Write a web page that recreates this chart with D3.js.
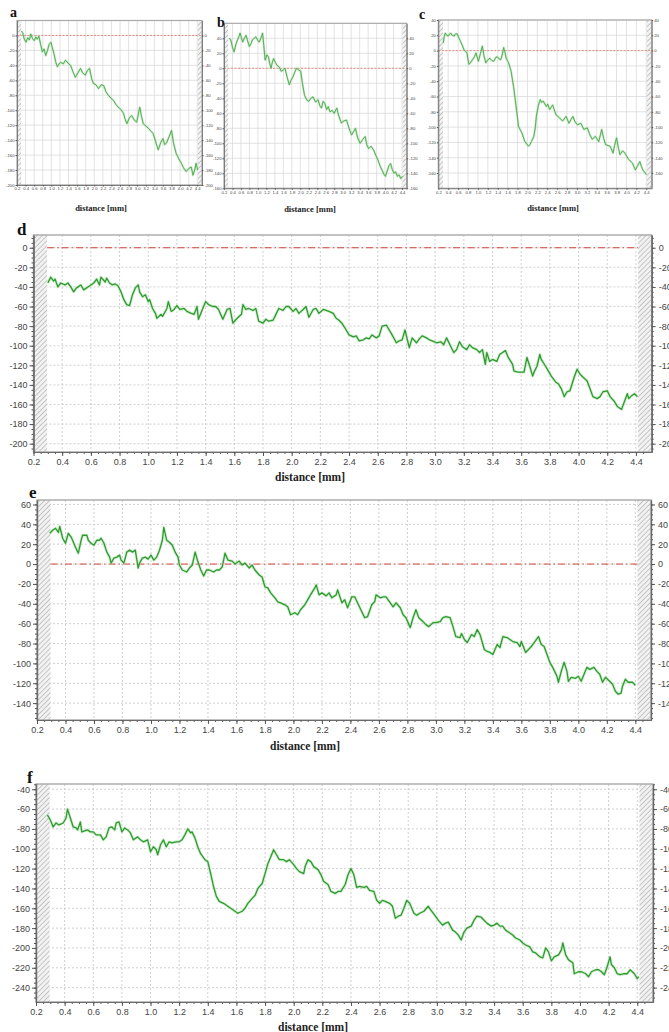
<!DOCTYPE html>
<html>
<head>
<meta charset="utf-8">
<script src="https://cdn.jsdelivr.net/npm/d3@7"></script>
<style>
  body { margin: 0; background: #fff; }
  svg { display: block; }
  .tick text { fill: #444; }
</style>
</head>
<body>
<svg id="fig" width="669" height="1032"></svg>
<script>
// tick labels shared by every panel
var xTicks = [0.2,0.4,0.6,0.8,1.0,1.2,1.4,1.6,1.8,2.0,2.2,2.4,2.6,2.8,3.0,3.2,3.4,3.6,3.8,4.0,4.2,4.4];
var yTicksA = [0,-20,-40,-60,-80,-100,-120,-140,-160,-180,-200];
var yTicksB = [40,20,0,-20,-40,-60,-80,-100,-120,-140,-160];
var yTicksC = [40,20,0,-20,-40,-60,-80,-100,-120,-140,-160];
var yTicksD = [0,-20,-40,-60,-80,-100,-120,-140,-160,-180,-200];
var yTicksE = [60,40,20,0,-20,-40,-60,-80,-100,-120,-140];
var yTicksF = [-40,-60,-80,-100,-120,-140,-160,-180,-200,-220,-240];

// profiles: [distance mm, depth]
var profileA = [[0.30,6],[0.33,4],[0.37,-5],[0.41,-9],[0.45,-3],[0.49,-6],[0.52,2],[0.56,-4],[0.60,-7],[0.64,-2],[0.67,-5],[0.71,-1],[0.75,-12],[0.79,-22],[0.83,-18],[0.87,-27],[0.91,-20],[0.95,-12],[0.99,-9],[1.03,-18],[1.06,-24],[1.10,-35],[1.14,-42],[1.18,-38],[1.22,-36],[1.28,-38],[1.33,-33],[1.39,-37],[1.45,-40],[1.50,-48],[1.56,-56],[1.62,-50],[1.68,-44],[1.73,-50],[1.79,-53],[1.84,-47],[1.89,-44],[1.94,-58],[1.98,-64],[2.04,-66],[2.10,-71],[2.16,-66],[2.22,-67],[2.27,-75],[2.33,-80],[2.39,-84],[2.45,-87],[2.50,-92],[2.56,-96],[2.62,-99],[2.68,-104],[2.72,-112],[2.76,-118],[2.82,-110],[2.87,-107],[2.93,-113],[2.99,-116],[3.03,-104],[3.06,-96],[3.10,-108],[3.14,-118],[3.20,-121],[3.26,-124],[3.32,-128],[3.37,-131],[3.43,-142],[3.49,-153],[3.55,-143],[3.60,-138],[3.64,-146],[3.68,-144],[3.74,-136],[3.80,-127],[3.85,-145],[3.91,-158],[3.97,-165],[4.03,-171],[4.08,-177],[4.14,-182],[4.20,-178],[4.26,-176],[4.30,-187],[4.34,-180],[4.37,-171],[4.41,-180]];

var profileB = [[0.32,40],[0.36,38],[0.40,28],[0.44,22],[0.48,32],[0.52,38],[0.55,42],[0.58,47],[0.61,41],[0.64,35],[0.68,40],[0.72,44],[0.76,36],[0.80,29],[0.84,33],[0.87,38],[0.91,40],[0.95,42],[0.99,38],[1.03,35],[1.07,40],[1.11,47],[1.14,30],[1.17,11],[1.21,18],[1.25,15],[1.28,6],[1.31,0],[1.34,8],[1.37,13],[1.41,8],[1.45,4],[1.50,2],[1.55,-4],[1.60,-2],[1.64,0],[1.69,-12],[1.74,-22],[1.78,-16],[1.83,-11],[1.87,-5],[1.91,0],[1.96,-2],[2.01,-4],[2.05,-20],[2.10,-36],[2.15,-42],[2.20,-44],[2.25,-40],[2.30,-38],[2.36,-45],[2.42,-42],[2.46,-50],[2.50,-53],[2.54,-44],[2.58,-47],[2.62,-55],[2.66,-51],[2.70,-58],[2.75,-56],[2.80,-60],[2.86,-53],[2.91,-64],[2.97,-73],[3.03,-70],[3.09,-69],[3.15,-80],[3.21,-89],[3.26,-84],[3.30,-80],[3.35,-92],[3.41,-100],[3.47,-95],[3.53,-91],[3.57,-102],[3.61,-107],[3.67,-104],[3.73,-109],[3.78,-116],[3.83,-122],[3.88,-130],[3.93,-136],[3.97,-141],[4.01,-144],[4.05,-137],[4.09,-130],[4.13,-127],[4.17,-135],[4.21,-140],[4.25,-138],[4.29,-144],[4.33,-142],[4.37,-147],[4.41,-144]];

var profileC = [[0.30,10],[0.32,18],[0.34,23],[0.37,20],[0.40,19],[0.45,23],[0.48,20],[0.52,19],[0.55,22],[0.58,22],[0.62,16],[0.65,12],[0.69,6],[0.72,1],[0.75,-1],[0.78,-3],[0.80,-12],[0.82,-18],[0.86,-15],[0.89,-12],[0.93,-8],[0.96,-3],[1.01,-14],[1.05,-4],[1.09,6],[1.12,-6],[1.16,-16],[1.20,-12],[1.24,-10],[1.28,-13],[1.32,-14],[1.36,-9],[1.39,-8],[1.43,-11],[1.46,-12],[1.49,-6],[1.52,4],[1.55,-3],[1.57,-10],[1.62,-16],[1.67,-27],[1.72,-47],[1.75,-62],[1.77,-73],[1.80,-88],[1.82,-99],[1.86,-104],[1.89,-108],[1.95,-119],[2.02,-125],[2.05,-123],[2.08,-119],[2.13,-112],[2.16,-100],[2.18,-86],[2.22,-72],[2.26,-64],[2.29,-68],[2.32,-66],[2.38,-73],[2.41,-70],[2.45,-77],[2.51,-71],[2.55,-79],[2.58,-84],[2.65,-88],[2.71,-92],[2.78,-86],[2.84,-95],[2.88,-90],[2.92,-86],[2.96,-93],[3.01,-97],[3.08,-95],[3.14,-103],[3.21,-101],[3.26,-110],[3.31,-116],[3.37,-112],[3.44,-119],[3.50,-103],[3.54,-115],[3.58,-123],[3.67,-125],[3.73,-134],[3.76,-124],[3.80,-114],[3.84,-128],[3.87,-136],[3.92,-131],[3.97,-134],[4.04,-142],[4.12,-147],[4.18,-156],[4.23,-150],[4.27,-145],[4.30,-151],[4.33,-156],[4.37,-159],[4.40,-162]];

var profileD = [[0.30,-36],[0.32,-30],[0.34,-34],[0.35,-32],[0.37,-40],[0.39,-36],[0.42,-38],[0.44,-36],[0.46,-40],[0.48,-45],[0.50,-41],[0.53,-38],[0.55,-43],[0.58,-40],[0.60,-38],[0.62,-36],[0.64,-32],[0.66,-38],[0.67,-30],[0.70,-35],[0.71,-31],[0.73,-36],[0.75,-38],[0.77,-37],[0.79,-39],[0.81,-45],[0.83,-53],[0.85,-58],[0.87,-59],[0.89,-48],[0.91,-41],[0.93,-38],[0.94,-45],[0.96,-50],[0.98,-48],[1.00,-55],[1.01,-53],[1.03,-62],[1.05,-67],[1.06,-72],[1.09,-68],[1.10,-70],[1.13,-62],[1.14,-55],[1.16,-65],[1.18,-63],[1.20,-59],[1.22,-63],[1.25,-62],[1.27,-65],[1.30,-67],[1.32,-68],[1.34,-60],[1.35,-73],[1.38,-62],[1.40,-55],[1.42,-58],[1.45,-60],[1.47,-60],[1.49,-63],
  [1.52,-73],[1.55,-63],[1.57,-62],[1.59,-77],[1.62,-72],[1.65,-68],[1.66,-58],[1.68,-63],[1.70,-62],[1.73,-64],[1.75,-62],[1.77,-75],[1.80,-77],[1.82,-73],[1.84,-75],[1.87,-74],[1.89,-68],[1.91,-62],[1.94,-64],[1.96,-60],[1.98,-60],[2.01,-65],[2.03,-62],[2.05,-67],[2.08,-63],[2.10,-60],[2.12,-71],[2.15,-63],[2.17,-62],[2.19,-67],[2.22,-63],[2.24,-64],[2.26,-65],[2.29,-67],[2.31,-72],[2.33,-74],[2.35,-77],[2.38,-84],[2.40,-89],[2.43,-91],[2.45,-90],[2.47,-95],[2.50,-94],[2.52,-92],[2.54,-93],[2.56,-89],[2.59,-92],[2.61,-90],[2.63,-80],[2.66,-79],[2.68,-84],[2.70,-89],[2.73,-97],[2.75,-95],[2.77,-94],[2.79,-84],[2.82,-102],[2.84,-92],[2.87,-97],[2.89,-93],[2.91,-90],[2.94,-92],[2.96,-94],[2.98,-95],
  [3.01,-97],[3.04,-96],[3.06,-99],[3.08,-92],[3.11,-101],[3.13,-107],[3.15,-104],[3.17,-96],[3.19,-101],[3.22,-104],[3.24,-99],[3.26,-102],[3.29,-104],[3.31,-107],[3.33,-104],[3.35,-119],[3.36,-107],[3.38,-116],[3.40,-114],[3.43,-116],[3.45,-109],[3.47,-107],[3.49,-105],[3.51,-112],[3.54,-119],[3.55,-126],[3.58,-127],[3.60,-127],[3.62,-127],[3.64,-112],[3.66,-121],[3.68,-131],[3.69,-127],[3.71,-121],[3.73,-109],[3.74,-114],[3.77,-121],[3.79,-126],[3.81,-131],[3.84,-137],[3.86,-139],[3.88,-144],[3.90,-152],[3.92,-147],[3.94,-146],[3.97,-132],[3.99,-124],[4.01,-129],[4.03,-132],[4.06,-136],[4.08,-144],[4.10,-152],[4.13,-154],[4.15,-152],[4.17,-147],[4.20,-146],[4.22,-152],[4.25,-157],[4.27,-162],[4.30,-165],[4.32,-157],[4.34,-149],[4.35,-154],[4.37,-151],[4.39,-149],[4.41,-152]];

var profileE = [[0.29,31],[0.31,34],[0.33,36],[0.35,32],[0.36,38],[0.38,26],[0.40,21],[0.42,31],[0.44,27],[0.45,24],[0.47,17],[0.49,11],[0.51,24],[0.52,29],[0.55,29],[0.56,24],[0.58,21],[0.60,19],[0.62,24],[0.64,24],[0.65,26],[0.67,21],[0.69,12],[0.71,7],[0.72,1],[0.74,6],[0.76,7],[0.78,9],[0.79,4],[0.81,1],[0.83,12],[0.85,14],[0.87,12],[0.89,14],[0.91,-4],[0.92,1],[0.94,6],[0.96,7],[0.98,5],[1.00,9],[1.02,4],[1.04,7],[1.06,14],[1.08,24],[1.09,37],[1.11,24],[1.13,22],[1.15,19],[1.17,12],[1.19,7],[1.20,-1],[1.22,-6],[1.25,-8],[1.27,-4],[1.29,-1],[1.31,12],[1.33,2],[1.35,-6],[1.37,-12],[1.39,-6],[1.41,-6],[1.44,-8],[1.46,-6],[1.48,-6],[1.50,-3],
  [1.52,11],[1.54,4],[1.57,3],[1.59,0],[1.62,3],[1.64,-1],[1.66,1],[1.69,-4],[1.71,-1],[1.73,-6],[1.76,-11],[1.78,-13],[1.80,-23],[1.82,-24],[1.84,-29],[1.87,-34],[1.89,-38],[1.91,-39],[1.94,-41],[1.96,-43],[1.98,-51],[2.01,-49],[2.03,-51],[2.05,-46],[2.08,-41],[2.10,-36],[2.12,-31],[2.15,-24],[2.16,-21],[2.18,-31],[2.20,-29],[2.23,-32],[2.25,-29],[2.27,-34],[2.30,-31],[2.31,-26],[2.34,-39],[2.36,-36],[2.38,-44],[2.41,-33],[2.43,-33],[2.45,-39],[2.48,-48],[2.50,-54],[2.52,-53],[2.55,-41],[2.57,-38],[2.58,-31],[2.61,-34],[2.63,-33],[2.65,-33],[2.68,-39],[2.70,-43],[2.72,-39],[2.75,-44],[2.77,-51],[2.79,-54],[2.82,-64],[2.84,-54],[2.86,-46],[2.88,-54],[2.91,-58],[2.93,-61],[2.95,-63],[2.98,-59],
  [3.00,-59],[3.03,-58],[3.05,-54],[3.07,-53],[3.10,-54],[3.12,-63],[3.14,-73],[3.17,-74],[3.18,-70],[3.20,-76],[3.22,-79],[3.25,-71],[3.27,-73],[3.29,-66],[3.31,-71],[3.34,-86],[3.36,-88],[3.38,-89],[3.40,-91],[3.43,-81],[3.45,-84],[3.47,-73],[3.50,-74],[3.52,-76],[3.54,-78],[3.57,-79],[3.59,-83],[3.60,-78],[3.63,-89],[3.65,-86],[3.67,-83],[3.69,-79],[3.72,-73],[3.74,-81],[3.76,-83],[3.78,-91],[3.80,-99],[3.82,-104],[3.85,-113],[3.86,-119],[3.88,-108],[3.90,-99],[3.92,-108],[3.93,-118],[3.95,-114],[3.98,-115],[4.00,-113],[4.02,-118],[4.04,-111],[4.06,-104],[4.08,-106],[4.11,-104],[4.13,-108],[4.15,-111],[4.17,-119],[4.19,-114],[4.22,-118],[4.24,-121],[4.26,-128],[4.28,-131],[4.30,-130],[4.31,-123],[4.33,-116],[4.35,-119],[4.38,-119],[4.40,-122]];

var profileF = [[0.28,-66],[0.30,-71],[0.32,-78],[0.34,-74],[0.36,-76],[0.39,-74],[0.41,-69],[0.42,-60],[0.44,-69],[0.46,-78],[0.48,-79],[0.49,-81],[0.51,-73],[0.52,-83],[0.54,-82],[0.56,-81],[0.58,-83],[0.60,-83],[0.62,-86],[0.65,-86],[0.67,-91],[0.69,-88],[0.71,-79],[0.73,-78],[0.75,-81],[0.76,-74],[0.78,-73],[0.80,-83],[0.82,-79],[0.84,-81],[0.86,-84],[0.88,-91],[0.91,-88],[0.93,-91],[0.95,-93],[0.98,-91],[1.00,-103],[1.02,-98],[1.04,-101],[1.05,-106],[1.07,-96],[1.09,-91],[1.11,-98],[1.13,-93],[1.15,-94],[1.18,-93],[1.20,-93],[1.22,-91],[1.24,-86],[1.26,-80],[1.28,-84],[1.29,-83],[1.31,-89],[1.33,-98],[1.35,-105],[1.38,-111],[1.40,-113],[1.42,-125],[1.44,-138],[1.46,-148],[1.48,-153],[1.51,-155],[1.54,-158],[1.58,-162],
  [1.61,-165],[1.64,-163],[1.66,-160],[1.68,-155],[1.71,-150],[1.73,-147],[1.75,-140],[1.78,-135],[1.80,-125],[1.82,-115],[1.84,-108],[1.86,-101],[1.88,-106],[1.90,-111],[1.93,-111],[1.95,-113],[1.97,-111],[2.00,-116],[2.02,-120],[2.04,-123],[2.07,-125],[2.08,-118],[2.10,-111],[2.12,-113],[2.14,-118],[2.17,-121],[2.19,-126],[2.21,-133],[2.24,-136],[2.26,-143],[2.29,-145],[2.31,-143],[2.33,-143],[2.36,-136],[2.38,-126],[2.40,-120],[2.42,-126],[2.44,-139],[2.46,-138],[2.49,-139],[2.51,-138],[2.53,-142],[2.56,-143],[2.58,-152],[2.60,-155],[2.62,-152],[2.64,-153],[2.67,-155],[2.69,-158],[2.71,-170],[2.73,-168],[2.75,-167],[2.77,-160],[2.79,-152],[2.81,-155],[2.84,-165],[2.86,-167],[2.88,-165],[2.91,-163],
  [2.94,-158],[2.96,-162],[2.99,-168],[3.01,-172],[3.04,-177],[3.06,-175],[3.08,-174],[3.11,-182],[3.13,-184],[3.15,-187],[3.17,-192],[3.19,-184],[3.21,-180],[3.24,-178],[3.26,-172],[3.28,-168],[3.31,-169],[3.33,-172],[3.35,-175],[3.38,-178],[3.40,-177],[3.42,-175],[3.44,-178],[3.46,-178],[3.48,-182],[3.51,-185],[3.53,-187],[3.55,-190],[3.58,-192],[3.60,-195],[3.62,-197],[3.65,-199],[3.67,-204],[3.69,-205],[3.72,-209],[3.74,-210],[3.76,-200],[3.78,-204],[3.80,-213],[3.82,-209],[3.85,-207],[3.87,-202],[3.88,-195],[3.90,-207],[3.92,-212],[3.95,-215],[3.96,-226],[3.99,-224],[4.01,-224],[4.04,-226],[4.06,-229],[4.08,-224],[4.11,-222],[4.13,-222],[4.15,-224],[4.17,-227],[4.19,-219],[4.21,-209],[4.22,-217],[4.24,-220],[4.26,-226],[4.28,-227],[4.31,-226],[4.33,-226],[4.35,-222],[4.38,-226],[4.40,-231],[4.41,-229]];

var xDomain = [0.2, 4.51];
var hatchEdges = [0.295, 4.415];

// panel layout: box = [left, top, right, bottom]
var panels = [
  { name: 'a', data: profileA, yTicks: yTicksA, yDomain: [-200, 20], box: [17, 20.5, 202, 185], small: true, zero: true, letter: [10, 17], title: [101, 211] },
  { name: 'b', data: profileB, yTicks: yTicksB, yDomain: [-160, 60], box: [224, 23.3, 406.7, 188.3], small: true, zero: true, letter: [217, 27], title: [310, 212] },
  { name: 'c', data: profileC, yTicks: yTicksC, yDomain: [-180, 40], box: [438.3, 20, 651.7, 188.3], small: true, zero: true, letter: [419, 19], title: [553, 211] },
  { name: 'd', data: profileD, yTicks: yTicksD, yDomain: [-208.5, 13], box: [33.5, 235, 651.7, 452], small: false, zero: true, letter: [17, 235], title: [310, 481] },
  { name: 'e', data: profileE, yTicks: yTicksE, yDomain: [-157, 64.5], box: [37, 500, 651, 720], small: false, zero: true, letter: [29, 498], title: [305, 750] },
  { name: 'f', data: profileF, yTicks: yTicksF, yDomain: [-254.5, -34.7], box: [36, 784, 653, 1002], small: false, zero: false, letter: [27, 783], title: [313, 1031] }
];

var svg = d3.select('#fig');

var defs = svg.append('defs');
defs.append('pattern')
  .attr('id', 'hatch')
  .attr('patternUnits', 'userSpaceOnUse')
  .attr('width', 3.5).attr('height', 3.5)
  .attr('patternTransform', 'rotate(45)')
  .call(function(p) {
    p.append('rect').attr('width', 3.5).attr('height', 3.5).attr('fill', '#f2f2f2');
    p.append('line').attr('x1', 0).attr('y1', 0).attr('x2', 0).attr('y2', 3.5)
      .attr('stroke', '#9a9a9a').attr('stroke-width', 1);
  });

function drawPanel(p) {
  var l = p.box[0], t = p.box[1], r = p.box[2], b = p.box[3];
  var s = p.small;
  var x = d3.scaleLinear().domain(xDomain).range([l, r]);
  var y = d3.scaleLinear().domain(p.yDomain).range([b, t]);
  var g = svg.append('g').attr('class', 'panel-' + p.name);

  g.append('rect').attr('x', l).attr('y', t).attr('width', r - l).attr('height', b - t).attr('fill', '#fff');

  // grid
  g.append('g').selectAll('line').data(xTicks.slice(1)).join('line')
    .attr('x1', function(d) { return x(d); }).attr('x2', function(d) { return x(d); })
    .attr('y1', t).attr('y2', b)
    .attr('stroke', s ? '#d6d6d6' : '#c4c4c4')
    .attr('stroke-width', s ? 0.7 : 0.8)
    .attr('stroke-dasharray', s ? null : '2,2');
  g.append('g').selectAll('line').data(p.yTicks).join('line')
    .attr('x1', l).attr('x2', r)
    .attr('y1', function(d) { return y(d); }).attr('y2', function(d) { return y(d); })
    .attr('stroke', s ? '#d6d6d6' : '#c4c4c4')
    .attr('stroke-width', s ? 0.7 : 0.8)
    .attr('stroke-dasharray', s ? null : '2,2');

  // hatched margins
  g.append('rect').attr('x', l).attr('y', t).attr('width', x(hatchEdges[0]) - l).attr('height', b - t)
    .attr('fill', 'url(#hatch)');
  g.append('rect').attr('x', x(hatchEdges[1])).attr('y', t).attr('width', r - x(hatchEdges[1])).attr('height', b - t)
    .attr('fill', 'url(#hatch)');

  // reference line at 0
  if (p.zero) {
    g.append('line')
      .attr('x1', s ? l : x(hatchEdges[0])).attr('x2', s ? r : x(hatchEdges[1]))
      .attr('y1', y(0)).attr('y2', y(0))
      .attr('stroke', s ? '#e07a6a' : '#d2453a')
      .attr('stroke-width', s ? 0.8 : 1)
      .attr('stroke-dasharray', s ? '2,1.5' : '7,3,1.5,3');
  }

  // profile
  var line = d3.line().x(function(d) { return x(d[0]); }).y(function(d) { return y(d[1]); });
  g.append('path').datum(p.data)
    .attr('d', line).attr('fill', 'none')
    .attr('stroke', s ? '#a9dca9' : '#b4e2b4')
    .attr('stroke-width', s ? 2.2 : 3)
    .attr('stroke-opacity', 0.6)
    .attr('stroke-linejoin', 'round');
  g.append('path').datum(p.data)
    .attr('d', line).attr('fill', 'none')
    .attr('stroke', s ? '#4aa64a' : '#2f9a2f')
    .attr('stroke-width', s ? 0.9 : 1.3)
    .attr('stroke-linejoin', 'round');

  // frame
  g.append('rect').attr('x', l).attr('y', t).attr('width', r - l).attr('height', b - t)
    .attr('fill', 'none').attr('stroke', '#a8a8a8').attr('stroke-width', s ? 1.2 : 1.4);

  // axes
  var fs = s ? 4.2 : 9;
  var major = s ? 1.5 : 4;
  var fmtY = function(d) { return String(d); };
  var fmtX = function(d) { return d.toFixed(1); };

  if (!s) {
    var yMinor = d3.range(Math.ceil(p.yDomain[0] / 5) * 5, p.yDomain[1], 5);
    var xMinor = d3.range(0.2, 4.5, 0.05);
    g.append('g').attr('transform', 'translate(' + l + ',0)')
      .call(d3.axisLeft(y).tickValues(yMinor).tickSize(2).tickSizeOuter(0).tickFormat(''));
    g.append('g').attr('transform', 'translate(' + r + ',0)')
      .call(d3.axisRight(y).tickValues(yMinor).tickSize(2).tickSizeOuter(0).tickFormat(''));
    g.append('g').attr('transform', 'translate(0,' + b + ')')
      .call(d3.axisBottom(x).tickValues(xMinor).tickSize(2).tickSizeOuter(0).tickFormat(''));
  }

  var axes = [];
  axes.push(g.append('g').attr('transform', 'translate(' + l + ',0)')
    .call(d3.axisLeft(y).tickValues(p.yTicks).tickSize(major).tickSizeOuter(0).tickPadding(s ? 1 : 2).tickFormat(fmtY)));
  axes.push(g.append('g').attr('transform', 'translate(' + r + ',0)')
    .call(d3.axisRight(y).tickValues(p.yTicks).tickSize(major).tickSizeOuter(0).tickPadding(s ? 1 : 3).tickFormat(fmtY)));
  axes.push(g.append('g').attr('transform', 'translate(0,' + b + ')')
    .call(d3.axisBottom(x).tickValues(xTicks).tickSize(major).tickSizeOuter(0).tickPadding(s ? 1 : 3).tickFormat(fmtX)));

  g.selectAll('.domain').attr('stroke', '#6a6a6a').attr('stroke-width', s ? 0.8 : 1.2);
  g.selectAll('.tick line').attr('stroke', '#555');
  axes.forEach(function(a) {
    a.attr('font-family', 'Liberation Sans, Arial, sans-serif').attr('font-size', fs);
  });

  // panel letter and axis title
  g.append('text').attr('x', p.letter[0]).attr('y', p.letter[1])
    .attr('font-family', 'Liberation Serif, Times New Roman, serif')
    .attr('font-weight', 'bold').attr('font-size', s ? 14 : 17)
    .attr('fill', '#111').text(p.name);
  g.append('text').attr('x', p.title[0]).attr('y', p.title[1])
    .attr('text-anchor', 'middle')
    .attr('font-family', 'Liberation Serif, Times New Roman, serif')
    .attr('font-weight', 'bold').attr('font-size', s ? 8.5 : 11.5)
    .attr('fill', '#222').text('distance [mm]');
}

panels.forEach(drawPanel);
</script>
</body>
</html>
